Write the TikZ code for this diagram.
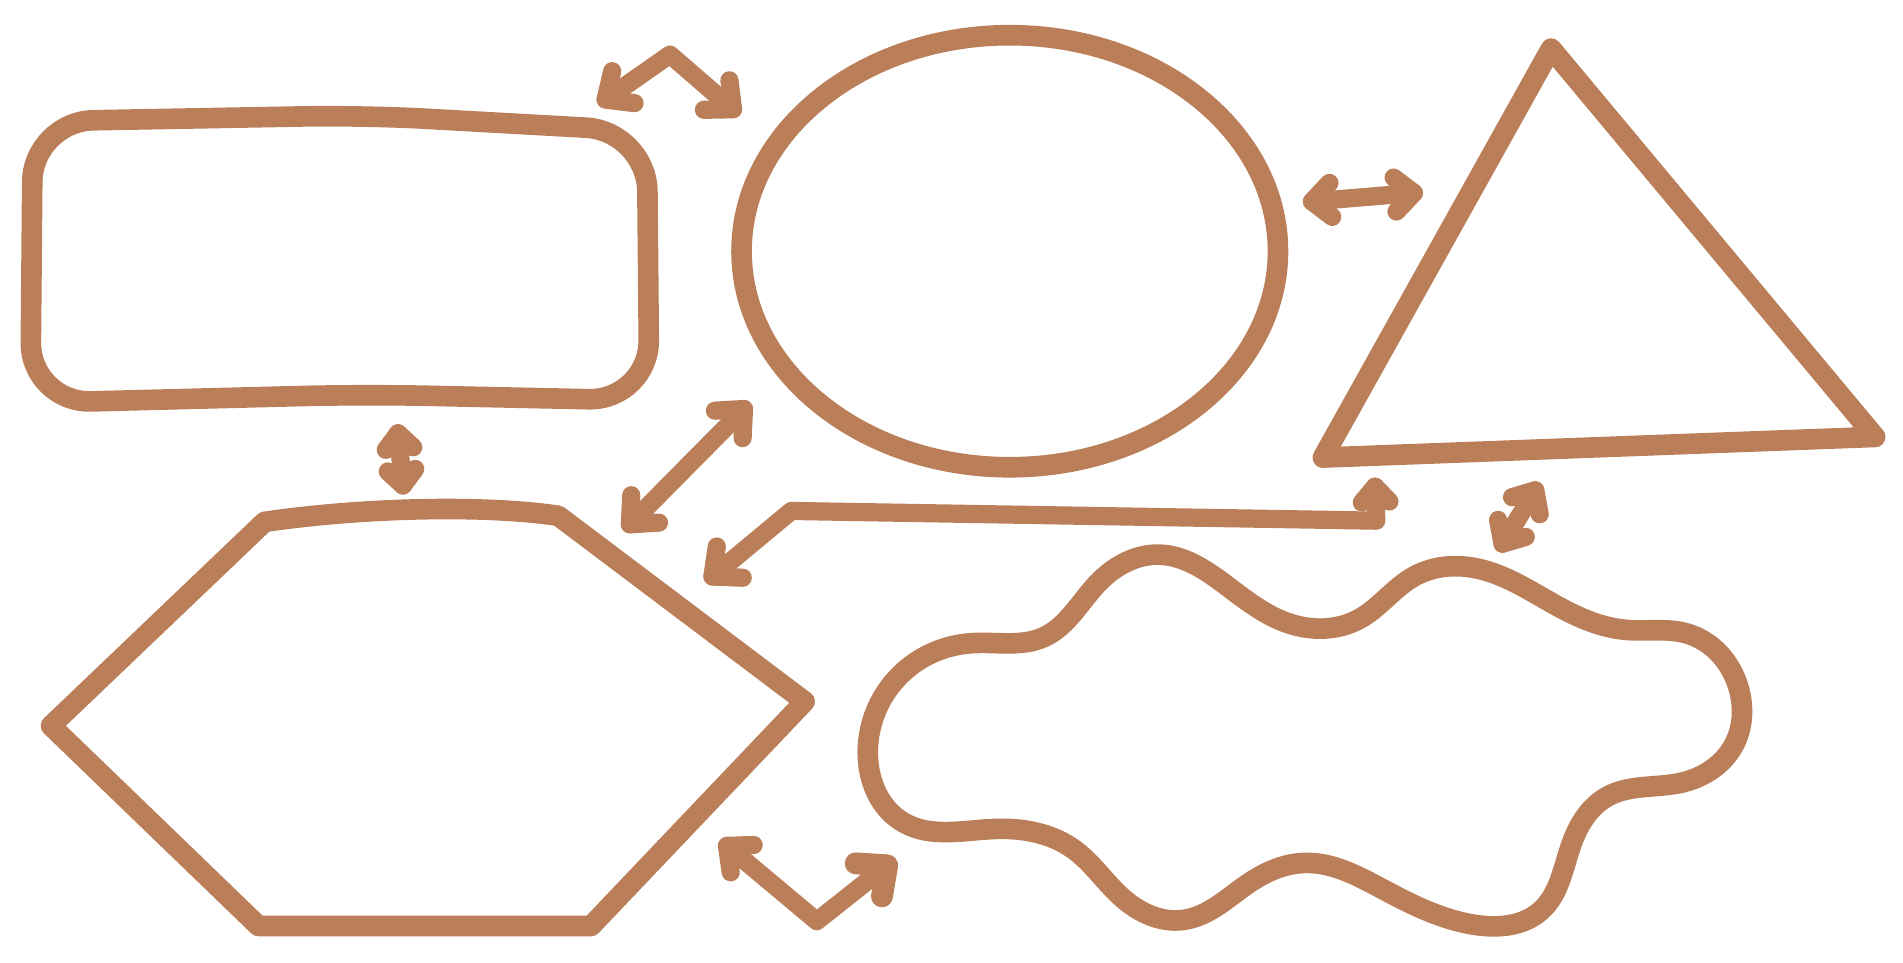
\documentclass[tikz,border=0pt]{standalone}
\usetikzlibrary{calc,hobby}
\definecolor{clay}{RGB}{186,126,88}
\tikzset{
  shapeline/.style={draw=clay, line width=17pt, line join=round, line cap=round},
  arrline/.style={draw=clay, line width=15pt, line join=round, line cap=round},
}
\newcommand{\arrhead}[3]{\draw[arrline] ($(#1)!#3!42:(#2)$) -- (#1) -- ($(#1)!#3!-42:(#2)$);}
\begin{document}
\begin{tikzpicture}[x=1pt,y=-1pt]
\useasboundingbox (0,0) rectangle (1568,793);
% rounded rectangle
\draw[shapeline, rounded corners=50pt] (27,100) -- (300,95) -- (533,108) -- (535,330) -- (300,325) -- (25,332) -- cycle;
% ellipse
\draw[shapeline] (832,207) ellipse [x radius=221, y radius=178];
% triangle
\draw[shapeline] (1278,40) -- (1545,360) -- (1090,377) -- cycle;
% hexagon
\draw[shapeline] (218,430) .. controls (300,418) and (400,416) .. (460,425) -- (663,578) -- (487,763) -- (213,763) -- (42,598) -- cycle;
% cloud
\draw[shapeline, use Hobby shortcut, closed=true]
 (715,620) .. (745,553) .. (800,530) .. (860,525) .. (905,480) .. (955,457)
 .. (1010,482) .. (1060,513) .. (1120,510) .. (1165,475) .. (1215,468)
 .. (1290,503) .. (1340,519) .. (1390,522) .. (1432,565) .. (1428,615)
 .. (1385,645) .. (1325,656) .. (1295,695) .. (1270,750) .. (1215,762)
 .. (1140,733) .. (1075,711) .. (1030,727) .. (975,758) .. (925,740)
 .. (885,700) .. (820,683) .. (745,678);
% connectors
\coordinate (a1) at (499,82); \coordinate (a1m) at (552,45); \coordinate (a1e) at (604,90);
\draw[arrline] (a1) -- (a1m) -- (a1e);
\arrhead{a1}{a1m}{24pt} \arrhead{a1e}{a1m}{24pt}
\coordinate (b1) at (328,357); \coordinate (b1e) at (332,400);
\draw[arrline] (b1) -- (b1e);
\arrhead{b1}{b1e}{17pt} \arrhead{b1e}{b1}{17pt}
\coordinate (c1) at (613,337); \coordinate (c1e) at (519,432);
\draw[arrline] (c1) -- (c1e);
\arrhead{c1}{c1e}{24pt} \arrhead{c1e}{c1}{24pt}
\coordinate (d1) at (587,475); \coordinate (d1m) at (652,421); \coordinate (d1n) at (1134,429); \coordinate (d1e) at (1133,401);
\draw[arrline] (d1) -- (d1m) -- (d1n) -- (d1e);
\arrhead{d1}{d1m}{25pt} \arrhead{d1e}{d1n}{17pt}
\coordinate (e1) at (1081,166); \coordinate (e1e) at (1165,159);
\draw[arrline] (e1) -- (e1e);
\arrhead{e1}{e1e}{21pt} \arrhead{e1e}{e1}{21pt}
\coordinate (f1) at (1265,404); \coordinate (f1e) at (1238,448);
\draw[arrline] (f1) -- (f1e);
\arrhead{f1}{f1e}{20pt} \arrhead{f1e}{f1}{20pt}
\coordinate (g1) at (599,697); \coordinate (g1m) at (673,759); \coordinate (g1e) at (731,713);
\draw[arrline] (g1) -- (g1m) -- (g1e);
\arrhead{g1}{g1m}{22pt}
\draw[arrline, line width=18pt] ($(g1e)!26pt!42:(g1m)$) -- (g1e) -- ($(g1e)!26pt!-42:(g1m)$);
\end{tikzpicture}
\end{document}
